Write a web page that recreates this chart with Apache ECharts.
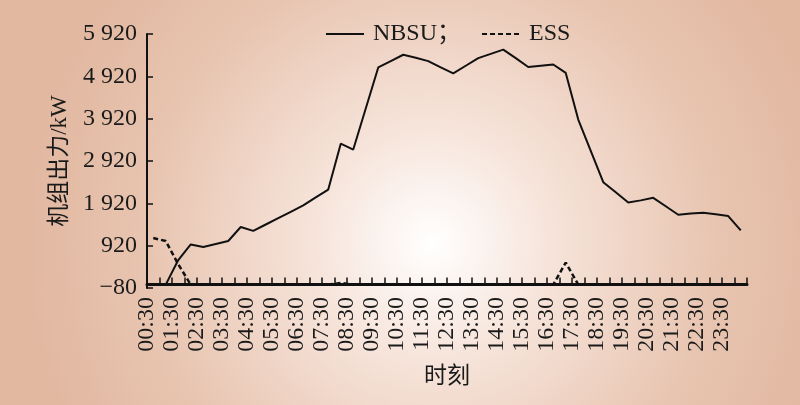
<!DOCTYPE html>
<html>
<head>
<meta charset="utf-8">
<script src="https://cdn.jsdelivr.net/npm/echarts@6/dist/echarts.min.js"></script>
<style>
html,body{margin:0;padding:0;}
#c{width:800px;height:405px;}
</style>
</head>
<body>
<div id="c"></div>
<script>
// Half-hour slots (data points sit in the middle of each slot)
const slots = [
  "00:30","01:00","01:30","02:00","02:30","03:00","03:30","04:00","04:30","05:00",
  "05:30","06:00","06:30","07:00","07:30","08:00","08:30","09:00","09:30","10:00",
  "10:30","11:00","11:30","12:00","12:30","13:00","13:30","14:00","14:30","15:00",
  "15:30","16:00","16:30","17:00","17:30","18:00","18:30","19:00","19:30","20:00",
  "20:30","21:00","21:30","22:00","22:30","23:00","23:30","24:00"
];
const nbsu = [
  0, 0, 580, 950, 890, 960, 1030, 1360, 1270, 1420,
  1570, 1720, 1870, 2060, 2245, 3330, 3190, 4160, 5130, 5280,
  5430, 5360, 5280, 5130, 4990, 5170, 5350, 5450, 5550, 5350,
  5140, 5170, 5200, 5000, 3900, 3160, 2420, 2180, 1940, 1990,
  2050, 1850, 1650, 1680, 1700, 1660, 1620, 1280
];
const ess = [
  1100, 1030, 480, 0, 0, 0, 0, 0, 0, 0,
  0, 0, 0, 0, 0, 40, 0, 0, 0, 0,
  0, 0, 0, 0, 0, 0, 0, 0, 0, 0,
  0, 0, 0, 520, 0, 0, 0, 0, 0, 0,
  0, 0, 0, 0, 0, 0, 0, 0
];
const seriesNames = ["NBSU；", "ESS"];
const yTicks = [-80, 920, 1920, 2920, 3920, 4920, 5920];

const fmtNum = v => {
  const s = Math.abs(v).toString();
  const t = s.length > 3 ? s.slice(0, s.length - 3) + " " + s.slice(-3) : s;
  return (v < 0 ? "\u2212" : "") + t;
};
const pad = n => (n < 10 ? "0" : "") + n;

const chart = echarts.init(document.getElementById('c'), null, {renderer: 'canvas'});
const font = '"Liberation Serif", "Times New Roman", "Noto Sans CJK SC", serif';
chart.setOption({
  backgroundColor: {
    type: 'radial', x: 0.54, y: 0.6, r: 1.0,
    colorStops: [
      {offset: 0, color: '#ffffff'},
      {offset: 0.3, color: '#f6e3d9'},
      {offset: 0.7, color: '#e8c5b1'},
      {offset: 1, color: '#e2b8a1'}
    ]
  },
  animation: false,
  textStyle: {fontFamily: font, color: '#1a1a1a'},
  legend: {
    top: 22, left: 325, padding: 0,
    itemWidth: 38, itemHeight: 12, itemGap: 20,
    itemStyle: {opacity: 0},
    textStyle: {fontFamily: font, fontSize: 24, color: '#1a1a1a', padding: [0, 0, 0, 4]},
    data: seriesNames
  },
  grid: {left: 147, right: 53, top: 34, bottom: 117, containLabel: false},
  xAxis: [
    {
      type: 'category', data: slots, boundaryGap: true,
      axisLine: {show: true, lineStyle: {color: '#111', width: 3}},
      axisTick: {show: true, inside: true, length: 7, interval: 0, lineStyle: {color: '#111', width: 1.5}},
      axisLabel: {show: false},
      splitLine: {show: false},
      name: '时刻', nameLocation: 'middle', nameGap: 77,
      nameTextStyle: {fontFamily: font, fontSize: 23, color: '#1a1a1a'}
    },
    {
      type: 'value', min: 0.5, max: 24.5, interval: 1, position: 'bottom',
      axisLine: {show: false}, axisTick: {show: false}, splitLine: {show: false},
      axisLabel: {
        rotate: 90, margin: 9, fontSize: 24, color: '#1a1a1a', fontFamily: font,
        formatter: v => (v > 24 ? '' : pad(Math.floor(v)) + ':30')
      }
    }
  ],
  yAxis: {
    type: 'value', min: yTicks[0], max: yTicks[yTicks.length - 1], interval: 1000,
    axisLine: {show: true, lineStyle: {color: '#111', width: 2}},
    axisTick: {show: true, inside: true, length: 6, lineStyle: {color: '#111', width: 1.5}},
    axisLabel: {fontSize: 24, color: '#1a1a1a', margin: 10, fontFamily: font, formatter: fmtNum},
    splitLine: {show: false},
    name: '机组出力/kW', nameLocation: 'middle', nameGap: 76, nameRotate: 90,
    nameTextStyle: {fontFamily: font, fontSize: 23, color: '#1a1a1a'}
  },
  series: [
    {
      name: seriesNames[0], type: 'line', data: nbsu, xAxisIndex: 0,
      symbol: 'none', lineStyle: {color: '#111', width: 2}, itemStyle: {color: '#111'}
    },
    {
      name: seriesNames[1], type: 'line', data: ess, xAxisIndex: 0,
      symbol: 'none', lineStyle: {color: '#111', width: 2.5, type: [5, 3]}, itemStyle: {color: '#111'}
    }
  ]
});
</script>
</body>
</html>
